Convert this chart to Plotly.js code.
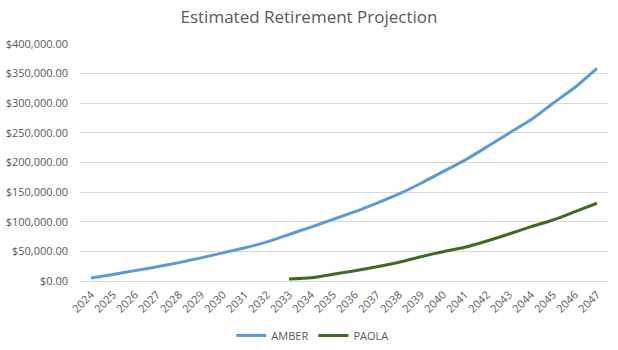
<!DOCTYPE html>
<html>
<head>
<meta charset="utf-8">
<script src="https://cdn.plot.ly/plotly-3.0.1.min.js"></script>
<style>html,body{margin:0;padding:0;background:#fff;}#chart{width:618px;height:350px;}</style>
</head>
<body>
<div id="chart"></div>
<script>
const years = ["2024","2025","2026","2027","2028","2029","2030","2031","2032","2033","2034","2035","2036","2037","2038","2039","2040","2041","2042","2043","2044","2045","2046","2047"];
const amber = [5000,11000,17500,24000,31000,39000,47500,56000,66000,78500,91000,104000,117000,131500,147000,165000,184500,204000,226500,249500,272000,300000,327000,359000];
const paola = [null,null,null,null,null,null,null,null,null,3500,5600,11300,17400,24200,31600,41000,49500,56900,67500,79300,91700,103000,117000,131200];

const font = "Open Sans, Liberation Sans, sans-serif";
const traces = [
  {x: years, y: amber, name: "AMBER", type: "scatter", mode: "lines",
   line: {color: "#5B9BD5", width: 3, shape: "spline", smoothing: 0.6}},
  {x: years, y: paola, name: "PAOLA", type: "scatter", mode: "lines", connectgaps: false,
   line: {color: "#3F6A24", width: 3, shape: "spline", smoothing: 0.6}}
];
const layout = {
  width: 618, height: 350,
  margin: {l: 80, r: 10, t: 44, b: 69, autoexpand: false},
  paper_bgcolor: "#fff", plot_bgcolor: "#fff",
  font: {family: font, color: "#595959", size: 11},
  title: {text: "Estimated Retirement Projection", x: 0.5, xanchor: "center", y: 0.95, yanchor: "middle",
          font: {size: 17, color: "#595959", family: font}},
  xaxis: {type: "category", range: [-0.5, 23.5], tickangle: -45, showgrid: false, automargin: false,
          showline: true, linecolor: "#d9d9d9", ticks: "", ticklabelstandoff: 2,
          tickfont: {size: 11, color: "#595959"}},
  yaxis: {range: [0, 400000], dtick: 50000, tickprefix: "$", tickformat: ",.2f", automargin: false,
          gridcolor: "#d9d9d9", zeroline: false, showline: false, ticks: "", ticklabelstandoff: 11,
          tickfont: {size: 11, color: "#595959"}},
  legend: {orientation: "h", x: 0.44, xanchor: "center", y: -0.23, yanchor: "middle",
           font: {size: 11, color: "#595959"}},
  showlegend: true
};
Plotly.newPlot("chart", traces, layout, {displayModeBar: false, staticPlot: true});
</script>
</body>
</html>
